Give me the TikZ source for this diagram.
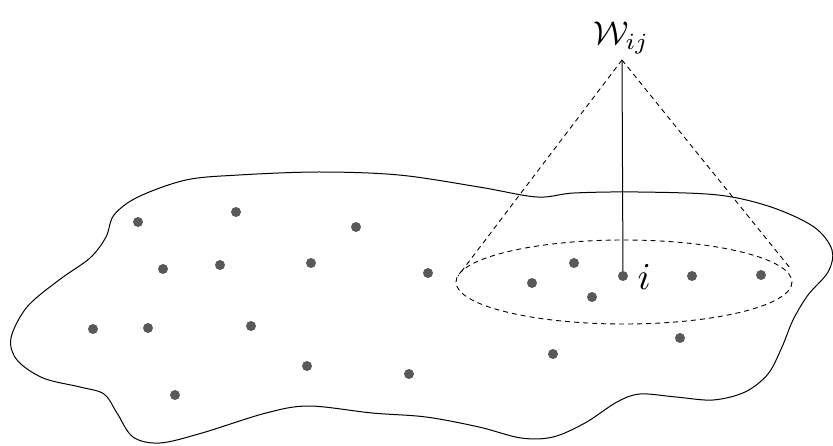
\documentclass[tikz,border=0pt]{standalone}
\begin{document}
\begin{tikzpicture}[x=1pt,y=-1pt,
  dotnode/.style={circle,fill=black!65,inner sep=0pt,minimum size=10pt},
  dashline/.style={dashed,dash pattern=on 5pt off 4pt,line width=0.9pt},
  outline/.style={line width=1pt}]
\useasboundingbox (0,0) rectangle (833,446);
% blob outline
\draw[outline] plot[smooth cycle,tension=0.55] coordinates {
 (114,215) (138,197) (186,180) (239,175) (319,172) (399,175) (479,187) (537,197)
 (574,193) (638,192) (718,195) (771,207) (814,227) (832,250) (828,272) (808,295)
 (793,320) (782,347) (768,374) (745,392) (713,400) (676,397) (640,394) (617,402)
 (585,423) (553,437) (521,438) (479,427) (426,417) (372,413) (309,406) (266,413)
 (202,433) (160,443) (133,437) (117,413) (104,394) (80,387) (43,378) (17,360)
 (11,338) (27,307) (59,280) (90,258) (106,237)};
% dots
\foreach \n/\x/\y in {a/138/222, b/236/212, c/356/227, d/163/269, e/220/265, f/311/263,
  g/428/273, h/93/329, k/148/328, l/251/326, m/307/366, n/409/374, o/175/395,
  p/532/283, q/574/263, r/592/297, s/692/276, t/761/275, u/553/354, v/680/338}
  \node[dotnode] (\n) at (\x,\y) {};
\node[dotnode] (i) at (623,276) {};
% neighbourhood ellipse
\draw[dashline] (624,282) ellipse [x radius=168, y radius=42];
\coordinate (apex) at (622,60);
\coordinate (L) at (458,276);
\coordinate (R) at (790,268);
\draw[dashline] (apex) -- (L);
\draw[dashline] (apex) -- (R);
\draw[line width=1pt] (apex) -- (i);
\node (w) at (621,38) {\scalebox{3.3}{$\mathcal{W}_{ij}$}};
\node[anchor=west] (il) at (634,277) {\scalebox{3.8}{$i$}};
\end{tikzpicture}
\end{document}
